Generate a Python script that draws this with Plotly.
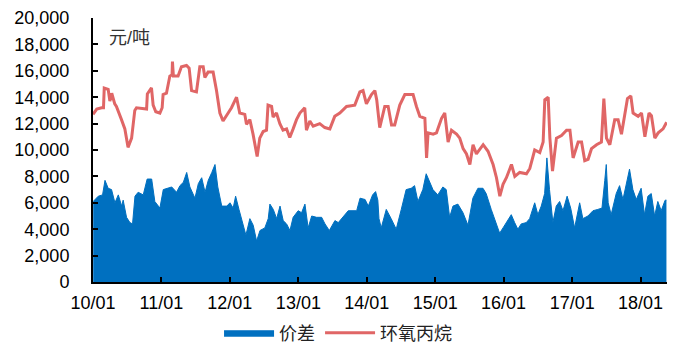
import plotly.graph_objects as go

# 环氧丙烷 price (元/吨)
po_dates = [
    "2010-01-01", "2010-01-21", "2010-02-16", "2010-02-26", "2010-03-02", "2010-03-23", "2010-04-01",
    "2010-04-11", "2010-04-27", "2010-05-06", "2010-06-02", "2010-06-20", "2010-07-07", "2010-07-26",
    "2010-08-12", "2010-08-21", "2010-10-14", "2010-10-18", "2010-11-09", "2010-11-18", "2010-12-02",
    "2010-12-24", "2011-01-05", "2011-01-10", "2011-01-28", "2011-02-15", "2011-02-27", "2011-03-01",
    "2011-03-06", "2011-03-31", "2011-04-18", "2011-05-15", "2011-05-29", "2011-06-11", "2011-07-07",
    "2011-07-25", "2011-08-12", "2011-08-21", "2011-09-07", "2011-10-04", "2011-10-22", "2011-11-09",
    "2011-11-26", "2011-12-23", "2012-01-10", "2012-02-06", "2012-02-23", "2012-03-21", "2012-03-30",
    "2012-04-17", "2012-05-04", "2012-05-26", "2012-06-09", "2012-06-27", "2012-07-15", "2012-07-23",
    "2012-08-11", "2012-08-19", "2012-09-06", "2012-09-24", "2012-10-11", "2012-10-30", "2012-11-16",
    "2012-12-04", "2012-12-22", "2013-01-09", "2013-02-04", "2013-02-13", "2013-03-03", "2013-03-21",
    "2013-04-25", "2013-05-22", "2013-06-18", "2013-07-14", "2013-08-10", "2013-09-15", "2013-10-29",
    "2013-11-25", "2013-12-12", "2013-12-30", "2014-01-26", "2014-02-13", "2014-02-23", "2014-03-11",
    "2014-04-07", "2014-04-25", "2014-05-13", "2014-05-30", "2014-06-26", "2014-07-23", "2014-09-05",
    "2014-09-23", "2014-10-11", "2014-11-07", "2014-11-16", "2014-11-24", "2014-12-21", "2015-01-08",
    "2015-02-04", "2015-02-21", "2015-03-11", "2015-03-29", "2015-04-25", "2015-05-12", "2015-05-30",
    "2015-06-17", "2015-07-05", "2015-07-22", "2015-08-09", "2015-09-14", "2015-10-10", "2015-11-06",
    "2015-11-24", "2015-12-12", "2015-12-29", "2016-01-16", "2016-02-12", "2016-03-01", "2016-03-27",
    "2016-05-02", "2016-05-20", "2016-06-15", "2016-07-12", "2016-07-30", "2016-08-08", "2016-08-26",
    "2016-09-04", "2016-09-18", "2016-10-09", "2016-11-05", "2016-12-02", "2016-12-20", "2017-01-06",
    "2017-02-02", "2017-02-20", "2017-03-09", "2017-03-27", "2017-04-14", "2017-05-11", "2017-06-06",
    "2017-06-19", "2017-07-03", "2017-07-21", "2017-08-16", "2017-09-03", "2017-09-21", "2017-10-09",
    "2017-10-23", "2017-11-10", "2017-11-22", "2017-12-19", "2018-01-06", "2018-01-24", "2018-02-15",
    "2018-02-28", "2018-03-18", "2018-04-05", "2018-05-01", "2018-05-20",
]
po_values = [
    12700, 13100, 13200, 13200, 14700, 14600, 13700,
    14300, 13500, 13300, 12300, 11600, 10200, 10900,
    13000, 13200, 13100, 14250, 14700, 13400, 12900,
    12800, 13200, 14200, 14300, 15600, 15700, 16700,
    15600, 15600, 16300, 16400, 16200, 14500, 14400,
    16300, 16300, 15500, 15900, 15900, 14500, 12800,
    12200, 12800, 13200, 14000, 12800, 12700, 11950,
    12300, 11200, 9500, 10900, 11400, 11500, 13400,
    13300, 12500, 12800, 12000, 11500, 11600, 10950,
    11600, 12300, 12800, 13200, 11500, 12200, 11800,
    12000, 11700, 11600, 12550, 12800, 13300, 13400,
    14400, 14500, 13500, 14200, 14500, 13800, 11700,
    13300, 13300, 11900, 11900, 13400, 14200, 14200,
    13300, 12550, 12400, 9400, 11300, 11200, 11300,
    12400, 12800, 10600, 11500, 11200, 10900, 10100,
    9700, 8900, 10400, 9700, 10400, 9900, 8900,
    7900, 6500, 7400, 7900, 8900, 8000, 8300,
    8200, 8600, 10000, 9800, 10600, 13800, 14000,
    10900, 8400, 10900, 11100, 11500, 11500, 9400,
    10600, 10600, 9200, 9300, 10100, 10400, 10600,
    13900, 10900, 10400, 12300, 12300, 11200, 12550,
    13900, 14100, 12800, 12550, 12800, 11000, 12800,
    12600, 10900, 11300, 11600, 12100,
]

# 价差 spread (元/吨)
spread_dates = [
    "2010-01-02", "2010-01-29", "2010-02-21", "2010-03-06", "2010-03-23", "2010-04-10", "2010-04-28",
    "2010-05-16", "2010-06-03", "2010-06-11", "2010-06-29", "2010-07-17", "2010-07-31", "2010-08-13",
    "2010-08-30", "2010-09-26", "2010-10-17", "2010-11-10", "2010-11-27", "2010-12-24", "2011-01-11",
    "2011-02-07", "2011-02-25", "2011-03-23", "2011-04-10", "2011-04-28", "2011-05-16", "2011-06-02",
    "2011-06-29", "2011-07-17", "2011-08-04", "2011-08-22", "2011-09-08", "2011-09-27", "2011-10-14",
    "2011-10-29", "2011-11-19", "2011-12-16", "2012-01-02", "2012-01-19", "2012-02-01", "2012-02-19",
    "2012-03-09", "2012-03-27", "2012-04-17", "2012-05-05", "2012-05-23", "2012-06-10", "2012-07-06",
    "2012-07-24", "2012-08-02", "2012-08-20", "2012-09-07", "2012-09-25", "2012-10-12", "2012-10-30",
    "2012-11-17", "2012-12-04", "2012-12-31", "2013-01-18", "2013-02-05", "2013-02-22", "2013-03-13",
    "2013-04-08", "2013-05-05", "2013-05-23", "2013-06-15", "2013-07-15", "2013-08-02", "2013-08-29",
    "2013-09-24", "2013-11-08", "2013-11-26", "2013-12-23", "2014-01-09", "2014-02-01", "2014-02-17",
    "2014-03-01", "2014-03-07", "2014-03-19", "2014-04-15", "2014-05-11", "2014-06-07", "2014-07-04",
    "2014-07-30", "2014-08-26", "2014-09-13", "2014-10-01", "2014-10-27", "2014-11-14", "2014-12-02",
    "2014-12-20", "2015-01-15", "2015-02-11", "2015-03-01", "2015-03-19", "2015-04-06", "2015-05-02",
    "2015-05-29", "2015-06-25", "2015-07-21", "2015-08-17", "2015-09-13", "2015-09-30", "2015-10-27",
    "2015-11-23", "2015-12-11", "2015-12-29", "2016-01-15", "2016-02-11", "2016-02-29", "2016-03-17",
    "2016-04-04", "2016-05-01", "2016-05-19", "2016-06-15", "2016-07-02", "2016-07-20", "2016-08-07",
    "2016-08-19", "2016-09-02", "2016-09-20", "2016-10-08", "2016-10-26", "2016-11-13", "2016-12-05",
    "2016-12-24", "2017-01-14", "2017-02-10", "2017-02-27", "2017-03-26", "2017-04-22", "2017-05-18",
    "2017-06-09", "2017-06-24", "2017-07-02", "2017-07-12", "2017-07-28", "2017-08-24", "2017-09-11",
    "2017-09-29", "2017-10-16", "2017-11-03", "2017-11-21", "2017-12-09", "2018-01-04", "2018-01-22",
    "2018-02-09", "2018-02-27", "2018-03-17", "2018-04-03", "2018-04-21", "2018-05-12", "2018-05-19",
]
spread_values = [
    6100, 6500, 6600, 7700, 7100, 7000, 6000,
    6600, 5750, 6200, 4900, 4500, 4400, 6500,
    6800, 6600, 7800, 7800, 6100, 5600, 7000,
    7100, 7200, 6800, 7300, 7550, 8300, 7200,
    6350, 7450, 7900, 6800, 7700, 8300, 8900,
    7200, 5750, 5750, 6000, 5600, 6500, 5500,
    4500, 3550, 4800, 4300, 3100, 3900, 4100,
    4800, 5900, 5500, 4800, 5750, 4650, 4400,
    3900, 4900, 5400, 5250, 5900, 4100, 5000,
    4900, 4900, 4400, 3900, 4650, 4500, 5000,
    5400, 5400, 6350, 6250, 5750, 6600, 6850,
    6200, 4800, 4100, 5500, 4800, 4000, 5500,
    7000, 7100, 7300, 6100, 7000, 8200, 7600,
    7000, 6600, 7200, 7000, 4900, 5750, 5900,
    5260, 4300, 6350, 7100, 7100, 6700, 5500,
    4500, 3700, 4100, 4500, 5100, 4500, 4000,
    4400, 4500, 4800, 6000, 5100, 5750, 6700,
    9400, 7000, 4500, 5750, 6100, 5400, 6500,
    5600, 4100, 6000, 4800, 5000, 5400, 5500,
    5600, 7700, 8900, 6000, 5100, 6700, 7300,
    6250, 7300, 8550, 7000, 6250, 7100, 5100,
    6500, 6700, 5000, 6100, 5400, 6200, 6200,
]

tick_vals = ["2010-01-01", "2011-01-01", "2012-01-01", "2013-01-01", "2014-01-01",
             "2015-01-01", "2016-01-01", "2017-01-01", "2018-01-01"]
tick_text = ["10/01", "11/01", "12/01", "13/01", "14/01", "15/01", "16/01", "17/01", "18/01"]

FONT = "Liberation Sans, Arial, Noto Sans CJK SC, sans-serif"

fig = go.Figure()
fig.add_trace(go.Scatter(
    x=spread_dates, y=spread_values, name="价差", mode="lines",
    line=dict(color="#0070C0", width=1), fill="tozeroy", fillcolor="#0070C0",
))
fig.add_trace(go.Scatter(
    x=po_dates, y=po_values, name="环氧丙烷", mode="lines",
    line=dict(color="#E06666", width=3),
))

# page body adds an 8px offset, so the figure is sized to the remaining viewport
fig.update_layout(
    width=670, height=339,
    margin=dict(l=85, r=11, t=10, b=65, autoexpand=False),
    paper_bgcolor="white", plot_bgcolor="white",
    font=dict(family=FONT, size=18, color="#000000"),
    showlegend=True,
    legend=dict(orientation="h", xref="container", yref="container",
                x=0.315, xanchor="left", y=0.041, yanchor="middle",
                font=dict(size=18, color="#222222"), itemwidth=50),
    annotations=[dict(text="元/吨", xref="paper", yref="paper", x=0.025, y=0.925,
                      xanchor="left", yanchor="middle", showarrow=False,
                      font=dict(size=18, color="#333333"))],
)
fig.update_xaxes(
    type="date", range=["2010-01-01", "2018-05-22"],
    tickvals=tick_vals, ticktext=tick_text, automargin=False,
    showline=True, linecolor="black", linewidth=2,
    ticks="inside", ticklen=5, tickwidth=2, tickcolor="black",
    showgrid=False, zeroline=False, tickfont=dict(size=18),
    ticklabelstandoff=3, ticklabeloverflow="allow",
)
fig.update_yaxes(
    range=[0, 20000], tickvals=list(range(0, 20001, 2000)), tickformat=",d",
    automargin=False,
    showline=True, linecolor="black", linewidth=2,
    ticks="inside", ticklen=5, tickwidth=2, tickcolor="black",
    showgrid=False, zeroline=False, tickfont=dict(size=18),
    ticklabelstandoff=18, ticklabeloverflow="allow",
)

fig.write_html("out.html")
